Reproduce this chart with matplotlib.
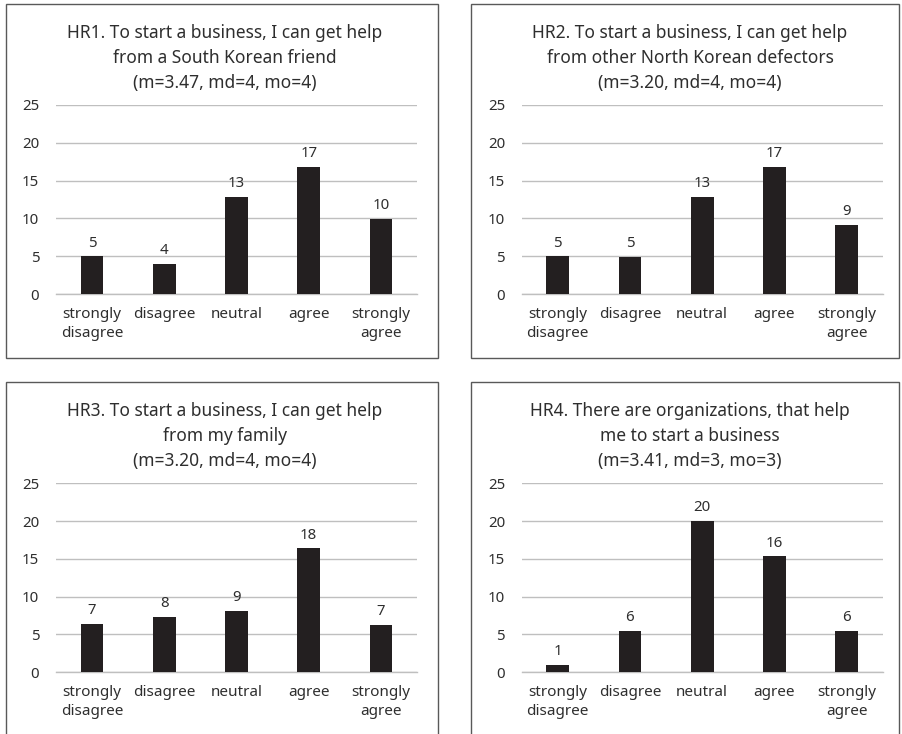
import matplotlib
matplotlib.use("Agg")
import matplotlib.pyplot as plt
from matplotlib.patches import Rectangle

plt.rcParams['font.family'] = ['Noto Sans', 'DejaVu Sans']

categories = ["strongly\ndisagree", "disagree", "neutral", "agree", "strongly\nagree"]
titles = [
    "HR1. To start a business, I can get help\nfrom a South Korean friend\n(m=3.47, md=4, mo=4)",
    "HR2. To start a business, I can get help\nfrom other North Korean defectors\n(m=3.20, md=4, mo=4)",
    "HR3. To start a business, I can get help\nfrom my family\n(m=3.20, md=4, mo=4)",
    "HR4. There are organizations, that help\nme to start a business\n(m=3.41, md=3, mo=3)",
]
# bar heights as drawn
hr1_heights = [5.0, 3.97, 12.83, 16.8, 9.96]
hr2_heights = [5.0, 4.9, 12.83, 16.8, 9.13]
hr3_heights = [6.36, 7.28, 8.08, 16.42, 6.22]
hr4_heights = [0.93, 5.43, 20.0, 15.36, 5.43]
# printed data labels
hr1_labels = [5, 4, 13, 17, 10]
hr2_labels = [5, 5, 13, 17, 9]
hr3_labels = [7, 8, 9, 18, 7]
hr4_labels = [1, 6, 20, 16, 6]
yticks = [0, 5, 10, 15, 20, 25]

heights = [hr1_heights, hr2_heights, hr3_heights, hr4_heights]
labels = [hr1_labels, hr2_labels, hr3_labels, hr4_labels]

W, H = 903, 734
fig = plt.figure(figsize=(W / 100, H / 100), dpi=100)

text_color = "#2e2e2e"
bar_color = "#231f20"
grid_color = "#bfbfbf"

axes_px = [(56, 417, 105, 294), (521.7, 882.7, 105, 294),
           (56, 417, 483.3, 672), (521.7, 882.7, 483.3, 672)]
box_px = [(6, 4, 438, 358), (471, 4, 899, 358),
          (6, 382, 438, 760), (471, 382, 899, 760)]
title_px = [(225, 58), (690, 58), (225, 436), (690, 436)]

def fx(x):
    return x / W

def fy(y):
    return 1 - y / H

for i in range(4):
    bl, bt, br, bb = box_px[i]
    fig.patches.append(Rectangle((fx(bl), fy(bb)), fx(br - bl), (bb - bt) / H,
                                 transform=fig.transFigure, fill=False,
                                 edgecolor="#595959", linewidth=1.0, zorder=0))
    l, r, t, b = axes_px[i]
    ax = fig.add_axes([fx(l), fy(b), fx(r - l), (b - t) / H])
    x = range(len(categories))
    bars = ax.bar(x, heights[i], width=0.315, color=bar_color, zorder=3)
    for rect, lab in zip(bars, labels[i]):
        ax.annotate(str(lab), (rect.get_x() + rect.get_width() / 2, rect.get_height()),
                    xytext=(0, 4), textcoords="offset points", ha="center", va="bottom",
                    fontsize=10.8, color=text_color)
    ax.set_ylim(0, 25)
    ax.set_xlim(-0.5, 4.5)
    ax.set_yticks(yticks)
    ax.set_xticks(list(x))
    ax.set_xticklabels(categories, fontsize=11, color=text_color, linespacing=1.4)
    ax.tick_params(axis="y", length=0, pad=12, labelsize=10.8, labelcolor=text_color)
    ax.tick_params(axis="x", length=0, pad=9)
    ax.yaxis.grid(True, color=grid_color, linewidth=1.0, zorder=0)
    ax.set_axisbelow(True)
    for s in ["top", "right", "left"]:
        ax.spines[s].set_visible(False)
    ax.spines["bottom"].set_color(grid_color)
    ax.spines["bottom"].set_linewidth(1.0)
    ax.set_facecolor("none")
    tx, ty = title_px[i]
    fig.text(fx(tx), fy(ty), titles[i], ha="center", va="center", fontsize=12.5,
             color=text_color, linespacing=1.5)

fig.savefig("out.png", dpi=100)
